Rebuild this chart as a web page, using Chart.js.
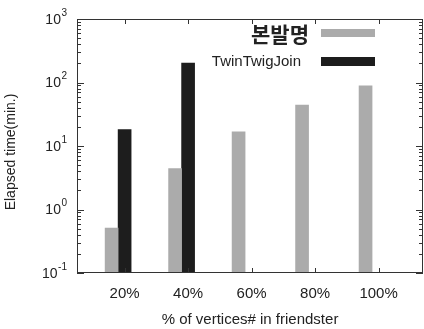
<!DOCTYPE html>
<html>
<head>
<meta charset="utf-8">
<script src="https://cdn.jsdelivr.net/npm/chart.js@4.4.1/dist/chart.umd.min.js"></script>
<style>
  html, body { margin: 0; padding: 0; background: #fff; }
  #wrap { width: 424px; height: 329px; }
</style>
</head>
<body>
<div id="wrap"><canvas id="c" width="424" height="329"></canvas></div>
<script>
// Share of friendster vertices used in each run
const categories = ['20%', '40%', '60%', '80%', '100%'];
// Elapsed time in minutes
const proposedTimes = [0.51, 4.4, 16.7, 44, 89];
const twinTwigTimes = [18.2, 202, null, null, null];
const seriesNames = ['본발명', 'TwinTwigJoin'];
const yTickExponents = [-1, 0, 1, 2, 3];
const xTitle = '% of vertices# in friendster';
const yTitle = 'Elapsed time(min.)';

const GRAY = '#ababab';
const BLACK = '#1d1d1d';
const INK = '#222';

const toPoints = vals => vals.map((v, i) => ({ x: i + 1, y: v }));

// Frame, inward tick marks, power-of-ten labels, y title and legend
const decorations = {
  id: 'decorations',
  afterDatasetsDraw(chart) {
    const { ctx, chartArea: a, scales: { x, y } } = chart;
    ctx.save();
    ctx.strokeStyle = '#333';
    ctx.lineWidth = 1;
    ctx.strokeRect(a.left + 0.5, a.top + 0.5, a.right - a.left - 1, a.bottom - a.top - 1);

    ctx.beginPath();
    // log ticks on left and right edges
    for (let e = yTickExponents[0]; e < yTickExponents[yTickExponents.length - 1]; e++) {
      for (let k = 1; k <= 9; k++) {
        const py = Math.round(y.getPixelForValue(k * Math.pow(10, e))) + 0.5;
        const len = k === 1 ? 7 : 4;
        ctx.moveTo(a.left, py); ctx.lineTo(a.left + len, py);
        ctx.moveTo(a.right, py); ctx.lineTo(a.right - len, py);
      }
    }
    // category ticks on bottom and top edges
    categories.forEach((c, i) => {
      const px = Math.round(x.getPixelForValue(i + 1)) + 0.5;
      ctx.moveTo(px, a.bottom); ctx.lineTo(px, a.bottom - 5);
      ctx.moveTo(px, a.top); ctx.lineTo(px, a.top + 5);
    });
    ctx.stroke();

    // 10^n labels
    ctx.fillStyle = INK;
    ctx.textBaseline = 'middle';
    yTickExponents.forEach(e => {
      const py = y.getPixelForValue(Math.pow(10, e));
      const exp = String(e);
      ctx.font = '10px "Liberation Sans", Arial, sans-serif';
      const ew = ctx.measureText(exp).width;
      const right = a.left - 10;
      ctx.textAlign = 'right';
      ctx.fillText(exp, right, py - 6);
      ctx.font = '14px "Liberation Sans", Arial, sans-serif';
      ctx.fillText('10', right - ew - 0.5, py + 1);
    });

    // rotated y title
    ctx.save();
    ctx.translate(11, 152);
    ctx.rotate(-Math.PI / 2);
    ctx.textAlign = 'center';
    ctx.font = '14px "Liberation Sans", Arial, sans-serif';
    ctx.fillText(yTitle, 0, 0);
    ctx.restore();

    // legend
    ctx.textAlign = 'right';
    ctx.font = 'bold 21px "Noto Sans CJK KR", sans-serif';
    ctx.fillText(seriesNames[0], 309, 34);
    ctx.font = '15px "Liberation Sans", Arial, sans-serif';
    ctx.fillText(seriesNames[1], 301, 62);
    ctx.fillStyle = GRAY;
    ctx.fillRect(321, 29, 54, 8);
    ctx.fillStyle = BLACK;
    ctx.fillRect(321, 57, 54, 9);
    ctx.restore();
  }
};

new Chart(document.getElementById('c'), {
  type: 'bar',
  data: {
    datasets: [
      { label: seriesNames[0], data: toPoints(proposedTimes), backgroundColor: GRAY },
      { label: seriesNames[1], data: toPoints(twinTwigTimes), backgroundColor: BLACK },
      // empty slot so each pair sits left of its tick
      { label: '', data: [], backgroundColor: 'rgba(0,0,0,0)' }
    ]
  },
  options: {
    responsive: false,
    animation: false,
    events: [],
    barThickness: 13,
    borderWidth: 0,
    layout: { padding: { top: 19, right: 1, left: 0, bottom: 0 } },
    plugins: { legend: { display: false }, tooltip: { enabled: false } },
    scales: {
      x: {
        type: 'linear',
        offset: false,
        min: 0.25,
        max: 5.7,
        grid: { display: false },
        border: { display: false },
        afterBuildTicks: s => { s.ticks = categories.map((c, i) => ({ value: i + 1 })); },
        afterFit: s => { s.height = 56; },
        ticks: {
          autoSkip: false,
          maxRotation: 0,
          padding: 4,
          color: INK,
          font: { family: '"Liberation Sans", Arial, sans-serif', size: 15 },
          callback: v => categories[v - 1]
        },
        title: {
          display: true,
          text: xTitle,
          color: INK,
          padding: { top: 0, bottom: 0 },
          font: { family: '"Liberation Sans", Arial, sans-serif', size: 15 }
        }
      },
      y: {
        type: 'logarithmic',
        min: 0.1,
        max: 1000,
        grid: { display: false },
        border: { display: false },
        ticks: { display: false },
        afterFit: s => { s.width = 77; }
      }
    }
  },
  plugins: [decorations]
});
</script>
</body>
</html>
